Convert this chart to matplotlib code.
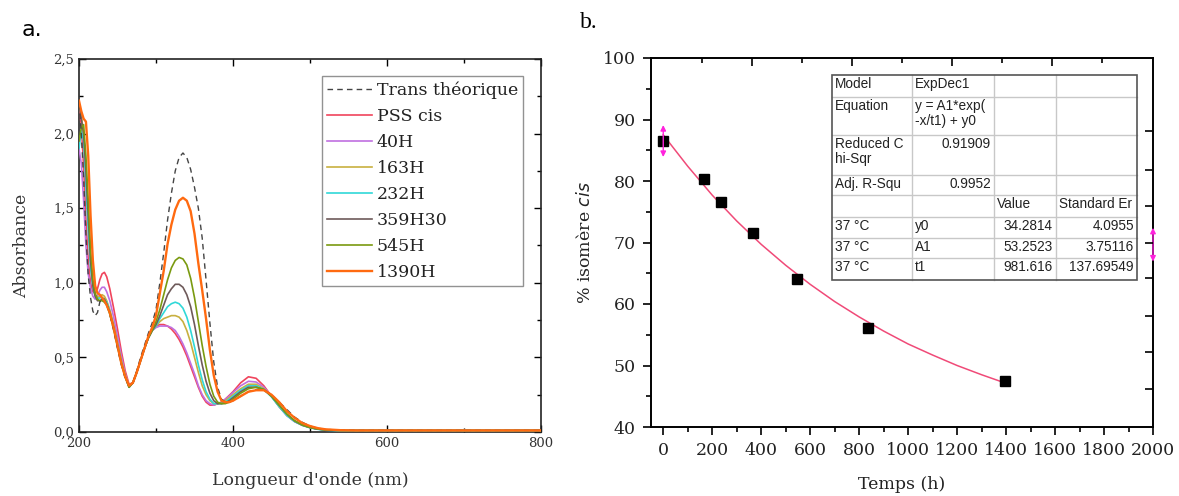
import matplotlib
matplotlib.use("Agg")
import matplotlib.pyplot as plt
from matplotlib.lines import Line2D
from matplotlib.ticker import MultipleLocator, FixedLocator, FuncFormatter

W, H = 1179, 496

# ---------------- data: panel a ----------------
wavelength = [200, 203, 206, 209, 212, 215, 218, 221, 224, 227,
              230, 233, 236, 240, 245, 250, 255, 260, 265, 270,
              275, 280, 285, 290, 295, 300, 305, 310, 315, 320,
              325, 330, 335, 340, 345, 350, 355, 360, 365, 370,
              375, 380, 385, 390, 395, 400, 410, 420, 430, 440,
              450, 460, 470, 480, 490, 500, 510, 520, 540, 560,
              600, 700, 800]

trans_theo = [2.20, 2.00, 1.70, 1.32, 1.05, 0.90, 0.81, 0.78, 0.80, 0.87,
              0.90, 0.89, 0.86, 0.79, 0.68, 0.56, 0.45, 0.36, 0.31, 0.33,
              0.41, 0.50, 0.58, 0.66, 0.73, 0.82, 1.00, 1.20, 1.42, 1.60,
              1.75, 1.84, 1.87, 1.84, 1.76, 1.64, 1.50, 1.30, 1.02, 0.73,
              0.47, 0.30, 0.22, 0.20, 0.20, 0.21, 0.24, 0.27, 0.285, 0.28,
              0.25, 0.20, 0.15, 0.10, 0.065, 0.04, 0.025, 0.018, 0.012, 0.01,
              0.01, 0.01, 0.01]
pss_cis = [2.20, 2.05, 1.78, 1.42, 1.15, 1.00, 0.94, 0.93, 0.96, 1.02,
           1.06, 1.07, 1.04, 0.96, 0.83, 0.69, 0.54, 0.41, 0.32, 0.33,
           0.40, 0.48, 0.56, 0.63, 0.68, 0.71, 0.72, 0.72, 0.71, 0.69,
           0.66, 0.62, 0.57, 0.51, 0.44, 0.37, 0.30, 0.24, 0.20, 0.18,
           0.18, 0.19, 0.20, 0.22, 0.245, 0.27, 0.33, 0.37, 0.36, 0.31,
           0.24, 0.17, 0.11, 0.07, 0.045, 0.03, 0.02, 0.015, 0.01, 0.01,
           0.01, 0.01, 0.01]
h40 = [1.90, 1.80, 1.55, 1.25, 1.06, 0.96, 0.91, 0.89, 0.91, 0.95,
       0.97, 0.97, 0.94, 0.88, 0.77, 0.64, 0.51, 0.39, 0.31, 0.33,
       0.40, 0.48, 0.56, 0.63, 0.68, 0.70, 0.71, 0.71, 0.71, 0.70,
       0.68, 0.64, 0.59, 0.53, 0.46, 0.39, 0.31, 0.25, 0.21, 0.19,
       0.18, 0.19, 0.20, 0.22, 0.24, 0.265, 0.31, 0.34, 0.335, 0.30,
       0.24, 0.17, 0.11, 0.07, 0.045, 0.03, 0.02, 0.014, 0.01, 0.01,
       0.01, 0.01, 0.01]
h163 = [2.20, 2.12, 2.00, 1.70, 1.40, 1.15, 1.00, 0.92, 0.90, 0.91,
        0.92, 0.91, 0.88, 0.82, 0.72, 0.60, 0.48, 0.38, 0.31, 0.33,
        0.40, 0.48, 0.56, 0.63, 0.68, 0.71, 0.74, 0.76, 0.77, 0.78,
        0.78, 0.77, 0.74, 0.68, 0.60, 0.50, 0.40, 0.31, 0.25, 0.21,
        0.19, 0.19, 0.195, 0.21, 0.23, 0.25, 0.29, 0.32, 0.32, 0.29,
        0.24, 0.17, 0.115, 0.075, 0.048, 0.03, 0.02, 0.014, 0.01, 0.01,
        0.01, 0.01, 0.01]
h232 = [1.90, 2.02, 1.95, 1.65, 1.35, 1.10, 0.97, 0.91, 0.89, 0.90,
        0.90, 0.89, 0.87, 0.81, 0.71, 0.59, 0.47, 0.37, 0.30, 0.33,
        0.40, 0.48, 0.56, 0.63, 0.68, 0.71, 0.76, 0.80, 0.84, 0.86,
        0.87, 0.86, 0.83, 0.77, 0.68, 0.57, 0.45, 0.35, 0.27, 0.22,
        0.19, 0.19, 0.19, 0.20, 0.22, 0.24, 0.28, 0.31, 0.31, 0.285,
        0.235, 0.17, 0.11, 0.07, 0.045, 0.028, 0.018, 0.012, 0.008, 0.006,
        0.005, 0.005, 0.005]
h359 = [2.20, 2.10, 2.00, 1.75, 1.45, 1.15, 0.98, 0.91, 0.88, 0.88,
        0.89, 0.88, 0.86, 0.80, 0.70, 0.58, 0.46, 0.37, 0.30, 0.33,
        0.40, 0.48, 0.56, 0.63, 0.68, 0.72, 0.78, 0.85, 0.92, 0.96,
        0.99, 0.99, 0.97, 0.92, 0.84, 0.72, 0.58, 0.45, 0.34, 0.26,
        0.21, 0.19, 0.19, 0.195, 0.21, 0.23, 0.27, 0.30, 0.30, 0.285,
        0.24, 0.18, 0.12, 0.075, 0.047, 0.03, 0.02, 0.014, 0.01, 0.01,
        0.01, 0.01, 0.01]
h545 = [1.95, 2.04, 2.06, 1.85, 1.55, 1.22, 1.02, 0.93, 0.89, 0.88,
        0.88, 0.87, 0.85, 0.79, 0.69, 0.57, 0.46, 0.37, 0.30, 0.33,
        0.40, 0.48, 0.56, 0.63, 0.68, 0.74, 0.82, 0.92, 1.02, 1.10,
        1.15, 1.17, 1.16, 1.12, 1.03, 0.90, 0.74, 0.58, 0.44, 0.32,
        0.24, 0.20, 0.19, 0.19, 0.20, 0.22, 0.26, 0.29, 0.30, 0.285,
        0.24, 0.18, 0.12, 0.075, 0.047, 0.03, 0.02, 0.014, 0.01, 0.01,
        0.01, 0.01, 0.01]
h1390 = [2.22, 2.15, 2.10, 2.08, 1.85, 1.45, 1.15, 0.98, 0.93, 0.92,
         0.90, 0.88, 0.85, 0.80, 0.70, 0.58, 0.46, 0.37, 0.31, 0.33,
         0.40, 0.48, 0.56, 0.64, 0.70, 0.78, 0.93, 1.08, 1.26, 1.39,
         1.49, 1.55, 1.57, 1.55, 1.48, 1.33, 1.13, 0.95, 0.76, 0.55,
         0.38, 0.27, 0.21, 0.20, 0.20, 0.21, 0.24, 0.27, 0.28, 0.28,
         0.25, 0.20, 0.14, 0.095, 0.06, 0.04, 0.026, 0.018, 0.012, 0.01,
         0.01, 0.01, 0.01]

series_labels = ["Trans théorique", "PSS cis", "40H", "163H", "232H",
                 "359H30", "545H", "1390H"]
series_values = [trans_theo, pss_cis, h40, h163, h232, h359, h545, h1390]
series_colors = ["#444444", "#f0445c", "#c070e0", "#c8b040", "#30d8d8",
                 "#6e5a5a", "#7a9a10", "#ff6a10"]

# ---------------- data: panel b ----------------
time_h = [0, 168, 235, 365, 548, 837, 1395]
pct_cis = [86.5, 80.3, 76.6, 71.6, 64.1, 56.1, 47.5]
fit_time = [0, 100, 200, 300, 400, 500, 600, 700, 800, 900, 1000, 1100,
            1200, 1300, 1400]
fit_pct = [87.5, 82.4, 77.7, 73.5, 69.7, 66.3, 63.2, 60.4, 57.9, 55.6,
           53.5, 51.7, 50.0, 48.5, 47.1]

table_rows = [
    ["Model", "ExpDec1", "", ""],
    ["Equation", "y = A1*exp(\n-x/t1) + y0", "", ""],
    ["Reduced C\nhi-Sqr", "0.91909", "", ""],
    ["Adj. R-Squ", "0.9952", "", ""],
    ["", "", "Value", "Standard Er"],
    ["37 °C", "y0", "34.2814", "4.0955"],
    ["37 °C", "A1", "53.2523", "3.75116"],
    ["37 °C", "t1", "981.616", "137.69549"],
]

# ---------------- figure ----------------
fig = plt.figure(figsize=(W / 100, H / 100), dpi=100)
fig.patch.set_facecolor("white")

def fx(px):
    return px / W

def fy(py):
    return 1 - py / H

SERIF = ["DejaVu Serif"]

# ---- panel a ----
axa = fig.add_axes([fx(79), fy(432), fx(541) - fx(79), fy(59) - fy(432)])
for i, (lab, vals, col) in enumerate(zip(series_labels, series_values, series_colors)):
    if i == 0:
        axa.plot(wavelength, vals, color=col, lw=1.0, ls=(0, (4, 3)),
                 label=lab, zorder=9)
    else:
        axa.plot(wavelength, vals, color=col, lw=1.7 if lab == "1390H" else 1.2,
                 label=lab, zorder=2 + i)
axa.set_xlim(200, 800)
axa.set_ylim(0, 2.5)
axa.xaxis.set_major_locator(MultipleLocator(200))
axa.xaxis.set_minor_locator(MultipleLocator(100))
axa.yaxis.set_major_locator(MultipleLocator(0.5))
axa.yaxis.set_minor_locator(MultipleLocator(0.25))
axa.yaxis.set_major_formatter(FuncFormatter(lambda v, p: f"{v:.1f}".replace(".", ",")))
axa.tick_params(which="both", direction="in", top=True, right=True,
                labelsize=9.5, labelcolor="#333333", width=1.0)
axa.tick_params(which="major", length=5)
axa.tick_params(which="minor", length=3)
for lab in axa.get_xticklabels() + axa.get_yticklabels():
    lab.set_family(SERIF)
for s in axa.spines.values():
    s.set_linewidth(1.2)
    s.set_color("#222222")
axa.set_xlabel("Longueur d'onde (nm)", family=SERIF, fontsize=12.5,
               color="#333333", labelpad=16)
axa.set_ylabel("Absorbance", family=SERIF, fontsize=12.5, color="#333333",
               labelpad=17)
leg = axa.legend(loc="upper right", bbox_to_anchor=(0.961, 0.954),
                 borderaxespad=0, prop={"family": SERIF, "size": 12.5},
                 frameon=True, fancybox=False, edgecolor="#777777",
                 handlelength=2.6, handletextpad=0.25, labelspacing=0.52,
                 borderpad=0.3)
leg.get_frame().set_linewidth(1.0)
for t in leg.get_texts():
    t.set_color("#222222")

fig.text(fx(22), fy(30), "a.", fontsize=16, family="DejaVu Sans",
         va="center", ha="left")
fig.text(fx(580), fy(22), "b.", fontsize=17, family=["Liberation Serif"],
         va="center", ha="left")

# ---- panel b ----
axb = fig.add_axes([fx(651), fy(427), fx(1153) - fx(651), fy(58) - fy(427)])
axb.plot(fit_time, fit_pct, color="#f04a78", lw=1.1, zorder=3)
axb.plot(time_h, pct_cis, ls="none", marker="s", ms=7.5, color="black",
         zorder=4)
axb.set_xlim(-50, 2000)
axb.set_ylim(40, 100)
axb.xaxis.set_major_locator(MultipleLocator(200))
axb.xaxis.set_minor_locator(MultipleLocator(100))
axb.yaxis.set_major_locator(MultipleLocator(10))
axb.yaxis.set_minor_locator(MultipleLocator(5))
axb.tick_params(which="both", direction="out", labelsize=12.5, width=1.2,
                colors="black", pad=5)
axb.tick_params(which="major", length=6)
axb.tick_params(which="minor", length=3.5)
for lab in axb.get_xticklabels() + axb.get_yticklabels():
    lab.set_family(SERIF)
    lab.set_color("#222222")
for s in axb.spines.values():
    s.set_linewidth(1.4)
axb.set_xlabel("Temps (h)", family=SERIF, fontsize=12.5, labelpad=12,
               color="#222222")
axb.set_ylabel("% isomère $\\it{cis}$", family=SERIF, fontsize=12.5,
               labelpad=6, color="#222222")

# secondary tick marks on right and top spines
axr = axb.twinx()
axr.set_ylim(40, 100)
axr.yaxis.set_major_locator(FixedLocator([88.2, 81.8, 76.0, 70.0, 64.2, 58.0, 52.2, 46.2]))
axr.tick_params(axis="y", direction="in", length=6, width=1.2, labelright=False)
axt = axb.twiny()
axt.set_xlim(-50, 2000)
axt.xaxis.set_major_locator(FixedLocator([363, 771, 1180, 1588]))
axt.xaxis.set_minor_locator(FixedLocator([159, 567, 976, 1384, 1792]))
axt.tick_params(axis="x", which="major", direction="in", length=6, width=1.2,
                labeltop=False)
axt.tick_params(axis="x", which="minor", direction="in", length=3.5, width=1.2)
for a in (axr, axt):
    for s in a.spines.values():
        s.set_visible(False)

# magenta double arrows
axb.annotate("", xy=(0, 89.1), xytext=(0, 83.9),
             arrowprops=dict(arrowstyle="<|-|>", color="#ff22dd", lw=1.0,
                             mutation_scale=8, shrinkA=0, shrinkB=0),
             zorder=5)
axb.annotate("", xy=(2000, 72.4), xytext=(2000, 66.9),
             arrowprops=dict(arrowstyle="<|-|>", color="#ff22dd", lw=1.0,
                             mutation_scale=8, shrinkA=0, shrinkB=0),
             annotation_clip=False, zorder=5)

# ---- fit-result table ----
col_x = [832, 912, 994, 1056, 1137]
row_y = [75, 97, 135, 175, 195, 217, 238, 258, 280]
fig.add_artist(plt.Rectangle((fx(col_x[0]), fy(row_y[-1])),
                             fx(col_x[-1]) - fx(col_x[0]),
                             fy(row_y[0]) - fy(row_y[-1]),
                             facecolor="white", edgecolor="none", zorder=6))
for yy in row_y[1:-1]:
    fig.add_artist(Line2D([fx(col_x[0]), fx(col_x[-1])], [fy(yy), fy(yy)],
                          color="#c8c8c8", lw=1.0, zorder=7))
for xx in col_x[1:-1]:
    fig.add_artist(Line2D([fx(xx), fx(xx)], [fy(row_y[0]), fy(row_y[-1])],
                          color="#c8c8c8", lw=1.0, zorder=7))
fig.add_artist(plt.Rectangle((fx(col_x[0]), fy(row_y[-1])),
                             fx(col_x[-1]) - fx(col_x[0]),
                             fy(row_y[0]) - fy(row_y[-1]),
                             facecolor="none", edgecolor="#555555", lw=1.2,
                             zorder=8))
TF = ["Liberation Sans", "DejaVu Sans"]
num_like = set(["0.91909", "0.9952", "34.2814", "4.0955", "53.2523",
                "3.75116", "981.616", "137.69549"])
for r, row in enumerate(table_rows):
    for c, txt in enumerate(row):
        if not txt:
            continue
        ytop = row_y[r] + 2
        if txt in num_like:
            fig.text(fx(col_x[c + 1] - 3), fy(ytop), txt, ha="right", va="top",
                     family=TF, fontsize=9.8, color="#222222", zorder=9,
                     linespacing=1.1)
        else:
            fig.text(fx(col_x[c] + 3), fy(ytop), txt, ha="left", va="top",
                     family=TF, fontsize=9.8, color="#222222", zorder=9,
                     linespacing=1.1)

fig.savefig("out.png", dpi=100, facecolor="white")
